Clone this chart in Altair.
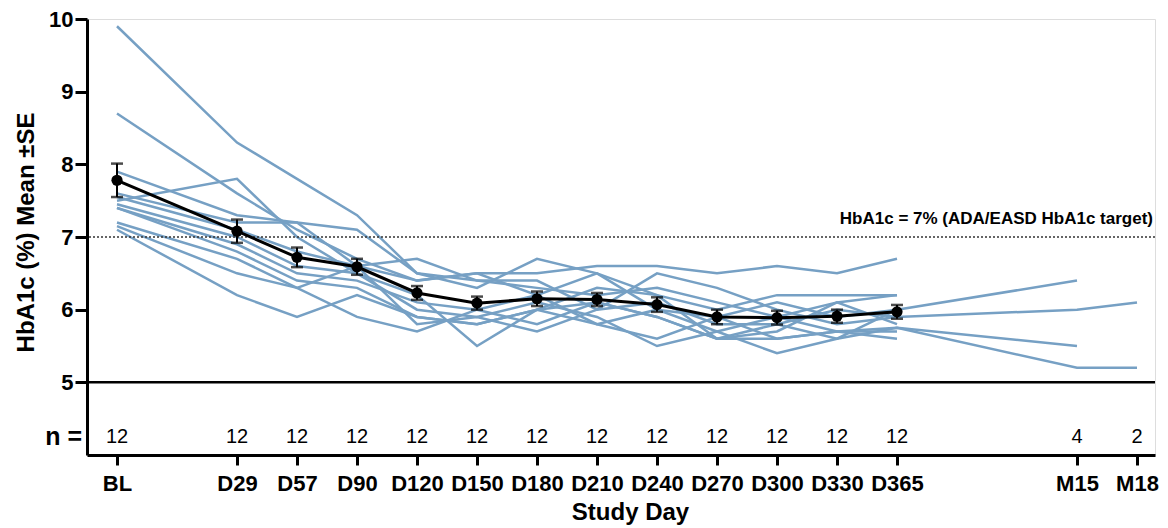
import altair as alt
import pandas as pd

# ---------------- data ----------------
visits = ["BL", "D29", "D57", "D90", "D120", "D150", "D180", "D210", "D240",
          "D270", "D300", "D330", "D365", "M15", "M18"]
visit_pos = [0, 2, 3, 4, 5, 6, 7, 8, 9, 10, 11, 12, 13, 16, 17]
n_subjects = [12, 12, 12, 12, 12, 12, 12, 12, 12, 12, 12, 12, 12, 4, 2]

mean_hba1c = [7.78, 7.08, 6.72, 6.59, 6.23, 6.09, 6.15, 6.14, 6.07, 5.90, 5.89, 5.91, 5.97]
se_hba1c = [0.23, 0.16, 0.135, 0.11, 0.095, 0.09, 0.10, 0.09, 0.10, 0.10, 0.095, 0.09, 0.095]

N = None
p01 = [9.9, 8.3, 7.8, 7.3, 6.5, 6.4, 6.3, 6.2, 6.3, 6.1, 5.9, 6.1, 6.2, N, N]
p02 = [8.7, 7.6, 7.1, 6.7, 6.4, 6.5, 6.5, 6.6, 6.6, 6.5, 6.6, 6.5, 6.7, N, N]
p03 = [7.9, 7.3, 7.2, 7.1, 6.5, 6.3, 6.7, 6.5, 6.2, 6.0, 6.2, 6.2, 6.2, N, N]
p04 = [7.6, 7.2, 7.2, 6.6, 6.4, 6.5, 6.2, 6.5, 6.0, 5.9, 6.1, 5.9, 6.0, N, N]
p05 = [7.55, 7.1, 6.8, 6.6, 6.7, 6.4, 6.4, 6.0, 6.5, 6.3, 6.0, 5.8, 5.9, N, N]
p06 = [7.5, 7.8, 7.0, 6.5, 6.2, 5.5, 6.0, 6.3, 6.2, 5.6, 5.7, 6.1, 5.8, N, N]
p07 = [7.45, 7.0, 6.6, 6.5, 6.0, 5.9, 6.1, 5.9, 5.5, 5.7, 5.9, 5.7, 5.75, 5.5, N]
p08 = [7.4, 6.9, 6.5, 6.4, 6.1, 6.0, 5.8, 6.1, 5.9, 5.6, 5.8, 5.6, 6.0, 6.4, N]
p09 = [7.4, 6.8, 6.4, 6.3, 5.9, 5.8, 6.0, 5.8, 6.0, 5.7, 5.4, 5.6, 5.75, 5.2, 5.2]
p10 = [7.2, 6.7, 6.3, 6.6, 5.8, 5.9, 5.7, 6.0, 6.1, 5.8, 5.8, 6.0, 5.9, 6.0, 6.1]
p11 = [7.15, 6.5, 6.3, 5.9, 5.7, 6.0, 6.2, 5.8, 5.6, 5.9, 5.6, 5.7, 5.7, N, N]
p12 = [7.1, 6.2, 5.9, 6.2, 5.9, 5.8, 6.0, 6.1, 5.9, 5.6, 5.6, 5.7, 5.6, N, N]
patients = [p01, p02, p03, p04, p05, p06, p07, p08, p09, p10, p11, p12]

target_value = 7
normal_value = 5
target_label = "HbA1c = 7% (ADA/EASD HbA1c target)"

# ---------------- tables ----------------
rows = []
for i, series in enumerate(patients):
    for pos, v in zip(visit_pos, series):
        if v is not None:
            rows.append({"pid": f"P{i+1}", "pos": pos, "val": v})
indiv = pd.DataFrame(rows)

mean_df = pd.DataFrame({
    "pos": visit_pos[:len(mean_hba1c)],
    "mean": mean_hba1c,
    "lo": [m - s for m, s in zip(mean_hba1c, se_hba1c)],
    "hi": [m + s for m, s in zip(mean_hba1c, se_hba1c)],
})
n_df = pd.DataFrame({"pos": visit_pos, "n": [str(v) for v in n_subjects]})

label_arr = [""] * (max(visit_pos) + 1)
for p, l in zip(visit_pos, visits):
    label_arr[p] = l
label_expr = "[" + ",".join(f"'{l}'" for l in label_arr) + "][datum.value]"

FONT = "Liberation Sans"
BLUE = "#76a0c4"

xscale = alt.Scale(domain=[-0.5, 17.3], nice=False, zero=False)
yscale = alt.Scale(domain=[4, 10], nice=False, zero=False)

xaxis = alt.Axis(values=visit_pos, labelExpr=label_expr, title="Study Day",
                 grid=False, labelFontSize=22, labelFontWeight="bold", labelFont=FONT,
                 labelPadding=8, tickSize=10, tickWidth=3, domainWidth=3,
                 domainColor="black", tickColor="black", labelColor="black",
                 titleFontSize=24, titleFontWeight="bold", titleFont=FONT,
                 titleColor="black", titlePadding=6, titleX=543, labelFlush=False)
yaxis = alt.Axis(values=[5, 6, 7, 8, 9, 10], format="d", title="HbA1c (%) Mean ±SE",
                 grid=False, labelFontSize=22, labelFontWeight="bold", labelFont=FONT,
                 labelPadding=2, tickSize=12, tickWidth=3, domainWidth=3,
                 domainColor="black", tickColor="black", labelColor="black",
                 titleFontSize=24, titleFontWeight="bold", titleFont=FONT,
                 titleColor="black", titleAngle=270, titleX=-54, titleY=213,
                 titleAlign="center", titleBaseline="alphabetic")

base_ind = alt.Chart(indiv)
lines = base_ind.mark_line(color=BLUE, strokeWidth=2.5).encode(
    x=alt.X("pos:Q", scale=xscale, axis=xaxis),
    y=alt.Y("val:Q", scale=yscale, axis=yaxis),
    detail="pid:N",
    order="pos:Q",
)

ref_df = pd.DataFrame({"v": [normal_value]})
rule5 = alt.Chart(ref_df).mark_rule(color="black", strokeWidth=2.5).encode(y=alt.Y("v:Q", scale=yscale))
ref7 = pd.DataFrame({"v": [target_value], "t": [target_label]})
rule7 = alt.Chart(ref7).mark_rule(color="#333333", strokeWidth=1.6, strokeDash=[2, 2]).encode(
    y=alt.Y("v:Q", scale=yscale))
ann = alt.Chart(ref7).mark_text(align="right", baseline="middle", dy=-18, fontSize=17,
                                fontWeight="bold", font=FONT, color="black").encode(
    x=alt.value(1066), y=alt.Y("v:Q", scale=yscale), text="t:N")

base_m = alt.Chart(mean_df)
mline = base_m.mark_line(color="black", strokeWidth=3).encode(
    x=alt.X("pos:Q", scale=xscale), y=alt.Y("mean:Q", scale=yscale))
ebar = base_m.mark_rule(color="black", strokeWidth=2).encode(
    x=alt.X("pos:Q", scale=xscale), y=alt.Y("lo:Q", scale=yscale), y2="hi:Q")
cap_hi = base_m.mark_tick(color="black", orient="horizontal", size=12, thickness=2.5).encode(
    x=alt.X("pos:Q", scale=xscale), y=alt.Y("hi:Q", scale=yscale))
cap_lo = base_m.mark_tick(color="black", orient="horizontal", size=12, thickness=2.5).encode(
    x=alt.X("pos:Q", scale=xscale), y=alt.Y("lo:Q", scale=yscale))
pts = base_m.mark_circle(color="black", size=125, opacity=1).encode(
    x=alt.X("pos:Q", scale=xscale), y=alt.Y("mean:Q", scale=yscale))

ntext = alt.Chart(n_df).mark_text(baseline="middle", fontSize=20, font=FONT, color="black").encode(
    x=alt.X("pos:Q", scale=xscale), y=alt.value(418), text="n:N")
nlab = alt.Chart(pd.DataFrame({"t": ["n ="]})).mark_text(
    align="right", baseline="middle", fontSize=25, fontWeight="bold", font=FONT, color="black").encode(
    x=alt.value(-5), y=alt.value(418), text="t:N")

chart = alt.layer(lines, rule5, rule7, ann, mline, ebar, cap_hi, cap_lo, pts, ntext, nlab).properties(
    width=1068, height=436,
    autosize=alt.AutoSizeParams(type="none"),
    padding={"left": 79, "top": 11, "right": 5, "bottom": 71},
).configure_view(stroke=None).configure(background="white")

chart.save("out.html", embed_options={"renderer": "svg", "actions": False})
